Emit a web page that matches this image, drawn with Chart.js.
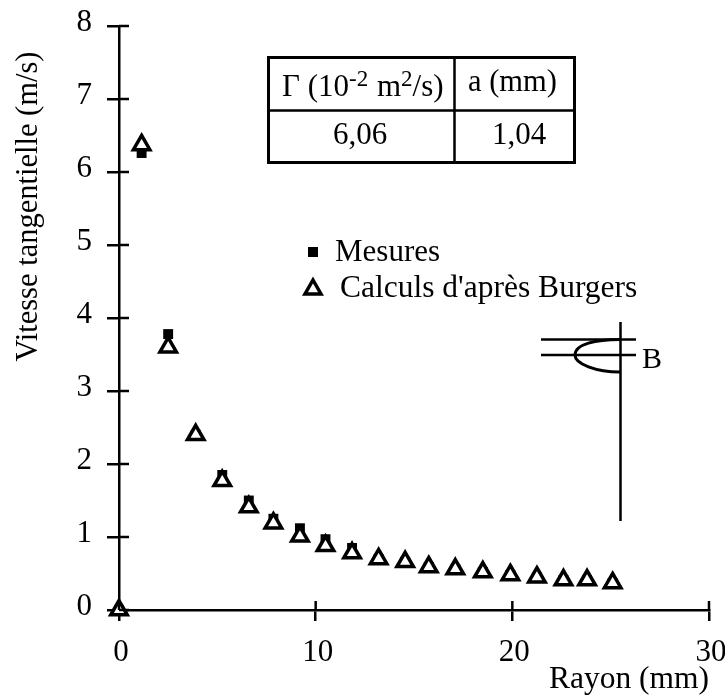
<!DOCTYPE html>
<html>
<head>
<meta charset="utf-8">
<script src="https://cdn.jsdelivr.net/npm/chart.js@4/dist/chart.umd.min.js"></script>
<style>
  html, body { margin: 0; padding: 0; background: #fff; }
  canvas { display: block; }
</style>
</head>
<body>
<canvas id="grafico" width="725" height="695"></canvas>
<script>
// Valeurs
const rayon = [0, 1.15, 2.5, 3.9, 5.25, 6.6, 7.85, 9.2, 10.5, 11.85, 13.2, 14.55, 15.75, 17.1, 18.5, 19.9, 21.25, 22.6, 23.8, 25.1];
const mesures = [0, 6.26, 3.78, 2.4, 1.85, 1.5, 1.25, 1.12, 0.97, 0.85, 0.7, 0.66, 0.59, 0.56, 0.52, 0.48, 0.45, 0.41, 0.41, 0.37];
const burgers = [0, 6.37, 3.6, 2.4, 1.77, 1.41, 1.19, 1.01, 0.88, 0.78, 0.7, 0.66, 0.59, 0.56, 0.52, 0.48, 0.45, 0.41, 0.41, 0.37];
const ticksX = [0, 10, 20, 30];
const ticksY = [0, 1, 2, 3, 4, 5, 6, 7, 8];

const police = '"Liberation Serif", "Times New Roman", serif';
const toPoints = (xs, ys) => xs.map((x, i) => ({ x: x, y: ys[i] }));

// Demi-graduations a l'interieur des axes
const graduations = {
    id: 'graduations',
    afterDraw(chart) {
        const ctx = chart.ctx, sx = chart.scales.x, sy = chart.scales.y;
        ctx.save();
        ctx.strokeStyle = '#000';
        ctx.lineWidth = 2.5;
        ticksX.forEach(t => {
            const p = sx.getPixelForValue(t);
            ctx.beginPath(); ctx.moveTo(p, sy.bottom); ctx.lineTo(p, sy.bottom - 9); ctx.stroke();
        });
        ticksY.forEach(t => {
            const p = sy.getPixelForValue(t);
            ctx.beginPath(); ctx.moveTo(sx.left, p); ctx.lineTo(sx.left + 10, p); ctx.stroke();
        });
        ctx.restore();
    }
};

// Titre vertical, tableau, legende et schema du tourbillon
const annotations = {
    id: 'annotations',
    afterDraw(chart) {
        const ctx = chart.ctx;
        ctx.save();
        ctx.fillStyle = '#000';
        ctx.strokeStyle = '#000';
        ctx.textBaseline = 'alphabetic';

        const texte = (t, x, y, taille) => {
            ctx.font = taille + 'px ' + police;
            ctx.fillText(t, x, y);
            return x + ctx.measureText(t).width;
        };

        // titre de l'axe y, plus haut que le centre de l'axe
        ctx.save();
        ctx.translate(37, 206.5);
        ctx.rotate(-Math.PI / 2);
        ctx.textAlign = 'center';
        texte('Vitesse tangentielle (m/s)', 0, 0, 30.5);
        ctx.restore();

        // tableau
        ctx.lineWidth = 3;
        ctx.strokeRect(268.5, 57.5, 306, 105);
        ctx.lineWidth = 2.5;
        ctx.beginPath();
        ctx.moveTo(268, 110.5); ctx.lineTo(575, 110.5);
        ctx.moveTo(454.5, 57); ctx.lineTo(454.5, 162);
        ctx.stroke();

        let x = texte('Γ (10', 282, 96, 31);
        x = texte('-2', x, 86, 23);
        x = texte(' m', x + 1, 96, 31);
        x = texte('2', x, 86, 23);
        texte('/s)', x, 96, 31);
        texte('a (mm)', 468, 91, 30.5);
        texte('6,06', 333, 144, 31);
        texte('1,04', 492, 144, 31);

        // legende
        ctx.fillRect(308, 247, 10, 10);
        texte(chart.data.datasets[0].label, 335, 261, 31);
        ctx.lineWidth = 3.5;
        ctx.beginPath();
        ctx.moveTo(313, 280); ctx.lineTo(321, 294); ctx.lineTo(305, 294); ctx.closePath();
        ctx.stroke();
        texte(chart.data.datasets[1].label, 340, 297, 31.5);

        // schema
        ctx.lineWidth = 2.5;
        ctx.beginPath();
        ctx.moveTo(620.5, 322); ctx.lineTo(620.5, 521);
        ctx.moveTo(541, 339.5); ctx.lineTo(636, 339.5);
        ctx.moveTo(541, 355); ctx.lineTo(636, 355);
        ctx.stroke();
        ctx.lineWidth = 3;
        ctx.beginPath();
        ctx.moveTo(620, 339.5);
        ctx.bezierCurveTo(596, 339.5, 575, 344, 575, 355);
        ctx.bezierCurveTo(575, 364, 596, 372, 620, 372);
        ctx.stroke();
        texte('B', 642, 368, 30);
        ctx.restore();
    }
};

new Chart(document.getElementById('grafico').getContext('2d'), {
    type: 'scatter',
    data: {
        datasets: [
            {
                label: 'Mesures',
                data: toPoints(rayon, mesures),
                pointStyle: 'rect',
                pointRadius: 7,
                pointBackgroundColor: '#000',
                pointBorderColor: '#000',
                pointBorderWidth: 0,
                clip: false,
                order: 2
            },
            {
                label: "Calculs d'après Burgers",
                data: toPoints(rayon, burgers),
                pointStyle: 'triangle',
                pointRadius: 9.5,
                pointBackgroundColor: '#fff',
                pointBorderColor: '#000',
                pointBorderWidth: 3.5,
                clip: false,
                order: 1
            }
        ]
    },
    options: {
        responsive: false,
        animation: false,
        layout: { padding: { top: 26, right: 16, left: 0, bottom: 0 } },
        plugins: { legend: { display: false }, tooltip: { enabled: false } },
        scales: {
            x: {
                type: 'linear',
                min: 0,
                max: 30,
                afterBuildTicks: s => { s.ticks = ticksX.map(v => ({ value: v })); },
                afterFit: s => { s.height = 85; s.paddingLeft = 0; s.paddingRight = 0; },
                border: { color: '#000', width: 2.5 },
                grid: { drawOnChartArea: false, drawTicks: true, tickLength: 11, color: '#000', lineWidth: 2.5 },
                ticks: { color: '#000', font: { family: police, size: 31 }, padding: 13, labelOffset: 2, maxRotation: 0 },
                title: {
                    display: true,
                    text: 'Rayon (mm)',
                    align: 'end',
                    color: '#000',
                    font: { family: police, size: 31.5 },
                    padding: { top: 0, bottom: -4 }
                }
            },
            y: {
                type: 'linear',
                min: 0,
                max: 8,
                afterBuildTicks: s => { s.ticks = ticksY.map(v => ({ value: v })); },
                afterFit: s => { s.width = 119; s.paddingTop = 0; s.paddingBottom = 0; },
                border: { color: '#000', width: 2.5 },
                grid: { drawOnChartArea: false, drawTicks: true, tickLength: 12, color: '#000', lineWidth: 2.5 },
                ticks: { color: '#000', font: { family: police, size: 31 }, padding: 15, labelOffset: -3 },
                title: { display: false }
            }
        }
    },
    plugins: [graduations, annotations]
});
</script>
</body>
</html>
